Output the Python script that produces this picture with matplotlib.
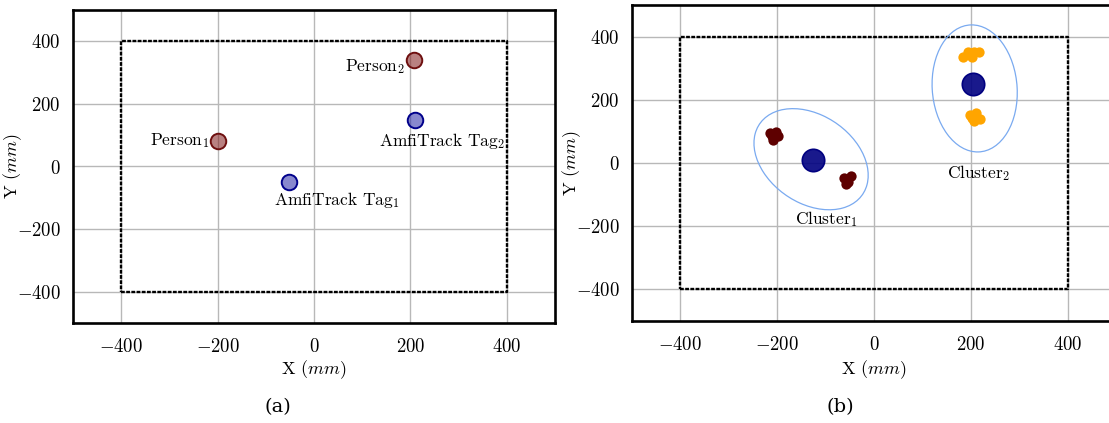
import numpy as np
import matplotlib
matplotlib.use("Agg")
import matplotlib.pyplot as plt
from matplotlib.patches import Ellipse

plt.rcParams['font.family'] = 'serif'
plt.rcParams['font.serif'] = ['cmr10']
plt.rcParams['mathtext.fontset'] = 'cm'
plt.rcParams['axes.formatter.use_mathtext'] = True

# ---- data ----
ticks = [-400, -200, 0, 200, 400]
box_x = [-400, 400, 400, -400, -400]
box_y = [-400, -400, 400, 400, -400]

# panel (a)
person_x = [-200, 207]
person_y = [82, 340]
person_lbl = ["Person$_1$", "Person$_2$"]
tag_x = [-52, 210]
tag_y = [-48, 148]
tag_lbl = ["AmfiTrack Tag$_1$", "AmfiTrack Tag$_2$"]

# panel (b)
c1_x = [-215, -202, -198, -208, -211, -63, -48, -53, -58]
c1_y = [95, 97, 84, 73, 84, -46, -42, -60, -65]
c2_x = [183, 195, 207, 217, 202, 198, 211, 219, 207, 202]
c2_y = [334, 350, 352, 350, 337, 153, 159, 140, 132, 143]
cent_x = [-127, 205]
cent_y = [10, 249]
# ellipse centre + covariance (xx, yy, xy)
ell_cx = [-130, 208]
ell_cy = [12, 236]
ell_cov = [(13924, 25600, -6000), (7744, 40401, -1200)]
clus_lbl = ["Cluster$_1$", "Cluster$_2$"]
clus_lx = [-98, 217]
clus_ly = [-177, -31]


def style(ax, ylx, xly):
    ax.set_xlim(-500, 500)
    ax.set_ylim(-500, 500)
    ax.set_xticks(ticks)
    ax.set_yticks(ticks)
    ax.grid(True, color='#b8b8b8', lw=1.0)
    ax.set_axisbelow(True)
    ax.tick_params(length=0, labelsize=13.5)
    ax.tick_params(axis='x', pad=11)
    ax.tick_params(axis='y', pad=9)
    for s in ax.spines.values():
        s.set_linewidth(1.9)
        s.set_color('black')
    ax.plot(box_x, box_y, color='black', lw=1.7, ls=(0, (1.6, 0.6)), zorder=2)
    ax.set_xlabel("X $(mm)$", fontsize=13)
    ax.set_ylabel("Y $(mm)$", fontsize=13)
    ax.yaxis.set_label_coords(ylx, 0.5)
    ax.xaxis.set_label_coords(0.5, xly)


fig = plt.figure(figsize=(11.09, 4.23), dpi=100)
ax1 = fig.add_axes([73/1109, 1-323/423, 482/1109, 313/423])
ax2 = fig.add_axes([632/1109, 1-321/423, 484/1109, 316/423])

# (a)
style(ax1, -0.102, -0.112)
ax1.scatter(person_x, person_y, s=125, facecolor=(0.5, 0.1, 0.1, 0.55),
            edgecolor='#6e0f0f', linewidth=1.4, zorder=3)
ax1.scatter(tag_x, tag_y, s=125, facecolor=(0.15, 0.15, 0.65, 0.55),
            edgecolor='#00008b', linewidth=1.4, zorder=3)
ax1.text(person_x[0] - 18, person_y[0], person_lbl[0], fontsize=12.5,
         ha='right', va='center')
ax1.text(person_x[1] - 18, person_y[1] - 22, person_lbl[1], fontsize=12.5,
         ha='right', va='center')
ax1.text(tag_x[0] + 100, tag_y[0] - 60, tag_lbl[0], fontsize=12.5,
         ha='center', va='center')
ax1.text(tag_x[1] + 57, tag_y[1] - 65, tag_lbl[1], fontsize=12.5,
         ha='center', va='center')

# (b)
style(ax2, -0.101, -0.117)
for cx, cy, (sxx, syy, sxy) in zip(ell_cx, ell_cy, ell_cov):
    m = np.array([[sxx, sxy], [sxy, syy]])
    vals, vecs = np.linalg.eigh(m)
    ang = np.degrees(np.arctan2(vecs[1, 1], vecs[0, 1]))
    ax2.add_patch(Ellipse((cx, cy), 2*np.sqrt(vals[1]), 2*np.sqrt(vals[0]),
                          angle=ang, fill=False, edgecolor='#7aaaf0',
                          lw=0.9, zorder=3))
ax2.scatter(c1_x, c1_y, s=55, color='#5e0000', zorder=4, linewidth=0)
ax2.scatter(c2_x, c2_y, s=55, color='#ffa500', zorder=4, linewidth=0)
ax2.scatter(cent_x, cent_y, s=260, facecolor=(0.0, 0.0, 0.5, 0.9),
            edgecolor='#000080', linewidth=1.2, zorder=5)
for lx, ly, t in zip(clus_lx, clus_ly, clus_lbl):
    ax2.text(lx, ly, t, fontsize=12.5, ha='center', va='center')

fig.text(278/1109, 1-407/423, "(a)", fontsize=14, family='DejaVu Serif',
         ha='center', va='center')
fig.text(840/1109, 1-407/423, "(b)", fontsize=14, family='DejaVu Serif',
         ha='center', va='center')

fig.savefig("out.png", dpi=100)
